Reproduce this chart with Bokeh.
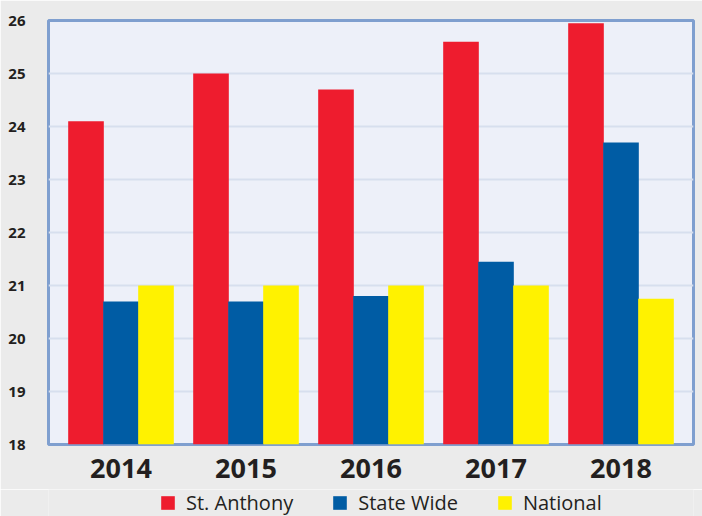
from bokeh.plotting import figure
from bokeh.layouts import column
from bokeh.models import FactorRange, FixedTicker, Legend, LegendItem, ColumnDataSource
from bokeh.transform import dodge
from bokeh.embed import file_html
from bokeh.resources import INLINE

years = ["2014", "2015", "2016", "2017", "2018"]
st_anthony = [24.1, 25.0, 24.7, 25.6, 25.95]
state_wide = [20.7, 20.7, 20.8, 21.45, 23.7]
national = [21.0, 21.0, 21.0, 21.0, 20.75]
y_ticks = [18, 19, 20, 21, 22, 23, 24, 25, 26]
series_names = ["St. Anthony", "State Wide", "National"]
colors = ["#ee1c2e", "#005ca4", "#fff200"]
page_bg = "#ebebeb"

src = ColumnDataSource(dict(year=years, a=st_anthony, s=state_wide, n=national))
cols = ["a", "s", "n"]
offsets = [-0.28, 0.0, 0.28]

p = figure(x_range=FactorRange(*years, range_padding=0.08, range_padding_units="absolute"),
           y_range=(18, 26), width=702, height=489,
           output_backend="svg", toolbar_location=None,
           min_border_left=48, min_border_right=9, min_border_top=20, min_border_bottom=45)

p.background_fill_color = "#edf0f9"
p.border_fill_color = page_bg
p.outline_line_color = "#7f9fcf"
p.outline_line_width = 3

for c, off, col in zip(cols, offsets, colors):
    p.vbar(x=dodge("year", off, range=p.x_range), top=c, bottom=18, width=0.285,
           source=src, color=col, line_width=0)

p.xgrid.grid_line_color = None
p.ygrid.grid_line_color = "#d7dfee"
p.ygrid.grid_line_width = 2

p.yaxis.ticker = FixedTicker(ticks=y_ticks)
for ax in (p.xaxis[0], p.yaxis[0]):
    ax.axis_line_color = None
    ax.major_tick_line_color = None
    ax.minor_tick_line_color = None
    ax.major_label_text_font = "Open Sans"
    ax.major_label_text_font_style = "bold"
    ax.major_label_text_color = "#231f20"
p.yaxis.major_label_text_font_size = "15px"
p.yaxis.major_label_standoff = 17
p.xaxis.major_label_text_font_size = "27px"
p.xaxis.major_label_standoff = 8

# legend strip below the chart (its bars fall far outside its ranges, only the legend shows)
lf = figure(width=702, height=27, x_range=FactorRange(*years), y_range=(1000, 1001),
            output_backend="svg", toolbar_location=None,
            min_border=0, min_border_left=48, min_border_right=9,
            min_border_top=0, min_border_bottom=0)
lf.axis.visible = False
lf.grid.visible = False
lf.outline_line_color = None
lf.background_fill_color = page_bg
lf.border_fill_color = page_bg

lr = [lf.vbar(x=dodge("year", 50, range=lf.x_range), top=c, bottom=18, width=0.285,
              source=src, color=col, line_width=0)
      for c, col in zip(cols, colors)]

legend = Legend(items=[LegendItem(label=n, renderers=[r]) for n, r in zip(series_names, lr)],
                orientation="horizontal", location=(111, 0),
                glyph_width=17, glyph_height=17, label_standoff=10, spacing=38,
                padding=0, margin=0, border_line_color=None,
                background_fill_alpha=0,
                label_text_font="Open Sans", label_text_font_size="20px",
                label_text_color="#231f20")
lf.add_layout(legend, "center")

layout = column(p, lf, spacing=0)
open("out.html", "w").write(file_html(layout, INLINE))
